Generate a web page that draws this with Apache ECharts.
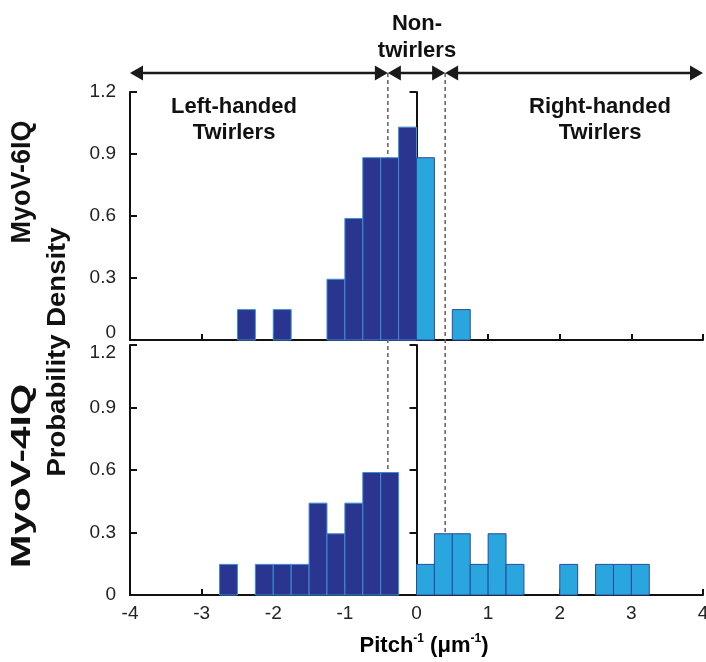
<!DOCTYPE html>
<html>
<head>
<meta charset="utf-8">
<script src="https://cdn.jsdelivr.net/npm/echarts@6/dist/echarts.min.js"></script>
<style>
  html, body { margin: 0; padding: 0; background: #fff; }
  #chart { width: 706px; height: 662px; }
</style>
</head>
<body>
<div id="chart"></div>
<script>
// Histogram bin width (µm^-1)
const binWidth = 0.25;

// MyoV-6IQ: left bin edges and probability densities
const myo6NegBins = [-2.5, -2.0, -1.25, -1.0, -0.75, -0.5, -0.25];
const myo6NegDensity = [0.147, 0.147, 0.294, 0.588, 0.882, 0.882, 1.03];
const myo6PosBins = [0, 0.5];
const myo6PosDensity = [0.882, 0.147];

// MyoV-4IQ: left bin edges and probability densities
const myo4NegBins = [-2.75, -2.25, -2.0, -1.75, -1.5, -1.25, -1.0, -0.75, -0.5];
const myo4NegDensity = [0.147, 0.147, 0.147, 0.147, 0.441, 0.294, 0.441, 0.588, 0.588];
const myo4PosBins = [0, 0.25, 0.5, 0.75, 1.0, 1.25, 2.0, 2.5, 2.75, 3.0];
const myo4PosDensity = [0.147, 0.294, 0.294, 0.147, 0.294, 0.147, 0.147, 0.147, 0.147, 0.147];

// Axis ranges and twirler class thresholds
const pitchRange = [-4, 4];
const densityRange = [0, 1.2];
const densityStep = 0.3;
const thresholds = [-0.4, 0.4];

const FONT = '"Liberation Sans", Arial, Helvetica, sans-serif';
const AXIS = '#111';
const DARK = { fill: '#2a3590', stroke: '#3d8fd3' };
const LIGHT = { fill: '#2aa6df', stroke: '#2b4a9c' };

function binData(edges, dens) {
  return edges.map((e, i) => [e, e + binWidth, dens[i]]);
}

function binSeries(grid, edges, dens, col) {
  return {
    type: 'custom',
    xAxisIndex: grid, yAxisIndex: grid * 2,
    z: 3,
    data: binData(edges, dens),
    encode: { x: [0, 1], y: 2 },
    renderItem: function (params, api) {
      const p0 = api.coord([api.value(0), api.value(2)]);
      const p1 = api.coord([api.value(1), 0]);
      return {
        type: 'rect',
        shape: { x: p0[0], y: p0[1], width: p1[0] - p0[0], height: p1[1] - p0[1] },
        style: { fill: col.fill, stroke: col.stroke, lineWidth: 1 }
      };
    }
  };
}

function xAxisCfg(grid, showLabels) {
  return {
    type: 'value', gridIndex: grid,
    min: pitchRange[0], max: pitchRange[1], interval: 1,
    axisLine: { onZero: false, lineStyle: { color: AXIS, width: 2 } },
    axisTick: { inside: true, length: 6, lineStyle: { color: AXIS, width: 2 } },
    axisLabel: { show: showLabels, fontFamily: FONT, fontSize: 19, color: '#222', margin: 9,
                 hideOverlap: false, showMinLabel: true, showMaxLabel: true },
    splitLine: { show: false }
  };
}

function yAxisCfg(grid, onZero, showLabels, edgeShift) {
  return {
    type: 'value', gridIndex: grid,
    min: densityRange[0], max: densityRange[1], interval: densityStep,
    axisLine: { onZero: onZero, lineStyle: { color: AXIS, width: 2 } },
    axisTick: { inside: true, length: 7, lineStyle: { color: AXIS, width: 2 } },
    axisLabel: {
      show: showLabels, fontFamily: FONT, fontSize: 19, color: '#222', margin: 14,
      formatter: function (v) {
        const t = v === 0 ? '0' : v.toFixed(1);
        if (edgeShift === 'up' && v === densityRange[0]) return '{up|' + t + '}';
        if (edgeShift === 'down' && Math.abs(v - densityRange[1]) < 1e-9) return '{dn|' + t + '}';
        return t;
      },
      rich: {
        up: { fontFamily: FONT, fontSize: 19, color: '#222', padding: [0, 0, 14, 0] },
        dn: { fontFamily: FONT, fontSize: 19, color: '#222', padding: [16, 0, 0, 0] }
      }
    },
    splitLine: { show: false }
  };
}

const chart = echarts.init(document.getElementById('chart'), null, { renderer: 'canvas' });

const gridBase = { left: 130, right: 3, outerBoundsMode: 'none', containLabel: false };

const option = {
  backgroundColor: '#fff',
  animation: false,
  grid: [
    Object.assign({ top: 92, height: 248 }, gridBase),
    Object.assign({ top: 345, height: 250 }, gridBase),
    // overlay spanning both panels plus the arrow row
    Object.assign({ top: 73, bottom: 67 }, gridBase)
  ],
  xAxis: [
    xAxisCfg(0, false),
    xAxisCfg(1, true),
    { type: 'value', gridIndex: 2, min: pitchRange[0], max: pitchRange[1], show: false }
  ],
  yAxis: [
    yAxisCfg(0, false, true, 'up'),
    yAxisCfg(0, true, false, null),
    yAxisCfg(1, false, true, 'down'),
    yAxisCfg(1, true, false, null),
    { type: 'value', gridIndex: 2, min: 0, max: 1, show: false }
  ],
  series: [
    // dashed class thresholds (behind bars)
    {
      type: 'custom', xAxisIndex: 2, yAxisIndex: 4, z: 1,
      data: thresholds.map(t => [t]),
      renderItem: function (params, api) {
        const a = api.coord([api.value(0), 1]);
        const b = api.coord([api.value(0), 0]);
        return {
          type: 'line',
          shape: { x1: a[0], y1: a[1], x2: b[0], y2: b[1] },
          style: { stroke: '#6b5b5b', lineWidth: 1.5, lineDash: [4, 3] }
        };
      }
    },
    // double-headed class arrows
    {
      type: 'custom', xAxisIndex: 2, yAxisIndex: 4, z: 4,
      data: [
        [pitchRange[0], thresholds[0]],
        [thresholds[0], thresholds[1]],
        [thresholds[1], pitchRange[1]]
      ],
      renderItem: function (params, api) {
        const a = api.coord([api.value(0), 1]);
        const b = api.coord([api.value(1), 1]);
        const L = 13, H = 7.5, y = a[1];
        return {
          type: 'group',
          children: [
            { type: 'line', shape: { x1: a[0] + L - 1, y1: y, x2: b[0] - L + 1, y2: y },
              style: { stroke: '#1a1a1a', lineWidth: 2.6 } },
            { type: 'polygon', shape: { points: [[a[0], y], [a[0] + L, y - H], [a[0] + L, y + H]] },
              style: { fill: '#1a1a1a' } },
            { type: 'polygon', shape: { points: [[b[0], y], [b[0] - L, y - H], [b[0] - L, y + H]] },
              style: { fill: '#1a1a1a' } }
          ]
        };
      }
    },
    binSeries(0, myo6NegBins, myo6NegDensity, DARK),
    binSeries(0, myo6PosBins, myo6PosDensity, LIGHT),
    binSeries(1, myo4NegBins, myo4NegDensity, DARK),
    binSeries(1, myo4PosBins, myo4PosDensity, LIGHT)
  ],
  graphic: [
    {
      type: 'text', x: 417, y: 37,
      style: { text: 'Non-\ntwirlers', font: 'bold 22px ' + FONT, fill: '#111',
               align: 'center', verticalAlign: 'middle', lineHeight: 27 }
    },
    {
      type: 'text', x: 234, y: 120,
      style: { text: 'Left-handed\nTwirlers', font: 'bold 22px ' + FONT, fill: '#111',
               align: 'center', verticalAlign: 'middle', lineHeight: 26 }
    },
    {
      type: 'text', x: 600, y: 120,
      style: { text: 'Right-handed\nTwirlers', font: 'bold 22px ' + FONT, fill: '#111',
               align: 'center', verticalAlign: 'middle', lineHeight: 26 }
    },
    {
      type: 'text', x: 23, y: 182, rotation: Math.PI / 2,
      style: { text: 'MyoV-6IQ', font: 'bold 27px ' + FONT, fill: '#111',
               align: 'center', verticalAlign: 'middle' }
    },
    {
      type: 'text', x: 23, y: 476, rotation: Math.PI / 2, scaleX: 1.5,
      style: { text: 'MyoV-4IQ', font: 'bold 27px ' + FONT, fill: '#111',
               align: 'center', verticalAlign: 'middle' }
    },
    {
      type: 'text', x: 58, y: 352, rotation: Math.PI / 2, scaleX: 1.1,
      style: { text: 'Probability Density', font: 'bold 25px ' + FONT, fill: '#111',
               align: 'center', verticalAlign: 'middle' }
    },
    {
      type: 'text', x: 424, y: 645,
      style: {
        text: '{b|Pitch}{s|-1}{b| (μm}{s|-1}{b|)}',
        align: 'center', verticalAlign: 'middle',
        rich: {
          b: { fontFamily: FONT, fontWeight: 'bold', fontSize: 22, color: '#111', lineHeight: 24, verticalAlign: 'bottom' },
          s: { fontFamily: FONT, fontWeight: 'bold', fontSize: 12, color: '#111', verticalAlign: 'top' }
        }
      }
    }
  ]
};

chart.setOption(option);
</script>
</body>
</html>
